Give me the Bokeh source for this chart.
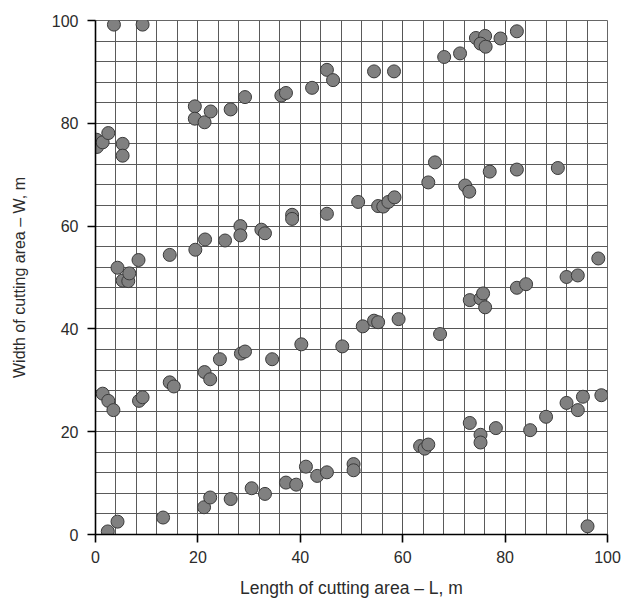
from bokeh.plotting import figure
from bokeh.models import Range1d, SingleIntervalTicker, ColumnDataSource
from bokeh.embed import file_html
from bokeh.resources import INLINE

# Length of cutting area L (m) and width W (m)
length_L = [3.6, 9.2,
            0.2, 0.3, 1.4, 2.5, 5.3, 5.3,
            19.4, 19.4, 21.3, 22.5, 26.4, 29.2, 36.3, 37.2, 42.3, 45.2, 46.4,
            54.4, 58.3, 68.1, 71.2, 74.3, 76.1, 75.2, 76.2, 79.1, 82.3,
            4.3, 5.3, 6.4, 6.6, 8.4, 14.5, 19.5, 21.4, 25.3, 28.3, 28.3, 32.4,
            33.1, 38.4, 38.4, 45.2, 51.3, 55.2, 56.2, 57.2, 58.4, 65.0, 66.3,
            72.2, 73.0, 77.0, 82.3, 90.3,
            98.2, 92.0, 94.2, 82.3, 84.1, 73.1, 75.2, 75.7, 76.1,
            48.2, 52.2, 54.4, 55.2, 59.2, 67.3,
            98.8, 95.2, 92.0, 94.2, 88.0, 84.9, 78.2, 73.1, 75.2, 75.2,
            63.4, 64.3, 65.0, 96.1,
            1.4, 2.5, 3.5, 8.5, 9.2, 14.5, 15.3, 21.3, 22.4, 24.3, 28.4, 29.2,
            34.5, 40.2,
            2.4, 4.3, 13.2, 21.2, 22.4, 26.4, 30.5, 33.1, 37.2, 39.2, 41.1,
            43.3, 45.2, 50.4, 50.4]
width_W = [99.2, 99.2,
           76.8, 75.4, 76.3, 78.1, 76.0, 73.7,
           83.3, 80.9, 80.2, 82.3, 82.7, 85.1, 85.4, 85.9, 86.9, 90.4, 88.4,
           90.1, 90.1, 92.9, 93.6, 96.6, 97.0, 95.5, 94.9, 96.5, 97.9,
           51.9, 49.4, 49.3, 50.8, 53.4, 54.4, 55.4, 57.4, 57.2, 60.0, 58.2, 59.3,
           58.6, 62.2, 61.4, 62.4, 64.7, 63.9, 63.8, 64.7, 65.6, 68.5, 72.4,
           67.9, 66.7, 70.6, 71.0, 71.3,
           53.7, 50.1, 50.4, 48.0, 48.7, 45.6, 45.9, 46.9, 44.2,
           36.6, 40.5, 41.6, 41.3, 41.9, 39.0,
           27.1, 26.8, 25.6, 24.2, 22.9, 20.3, 20.7, 21.7, 19.4, 17.9,
           17.2, 16.7, 17.5, 1.6,
           27.4, 26.0, 24.2, 26.0, 26.7, 29.6, 28.8, 31.6, 30.2, 34.1, 35.2, 35.6,
           34.1, 37.0,
           0.6, 2.5, 3.3, 5.3, 7.2, 6.9, 9.0, 7.9, 10.1, 9.7, 13.2,
           11.4, 12.1, 13.7, 12.5]

x_label = "Length of cutting area – L, m"
y_label = "Width of cutting area – W, m"

FONT = "Liberation Sans"
TEXT_COLOR = "#2b2b2b"

p = figure(width=631, height=602, output_backend="svg", toolbar_location=None,
           x_range=Range1d(0, 100), y_range=Range1d(0, 100),
           min_border_left=95, min_border_right=24, min_border_top=20,
           min_border_bottom=68)

for ax in (p.xaxis[0], p.yaxis[0]):
    ax.ticker = SingleIntervalTicker(interval=20, num_minor_ticks=5)
    ax.axis_line_color = "black"
    ax.axis_line_width = 1.6
    ax.major_tick_line_color = "black"
    ax.major_tick_line_width = 1.6
    ax.major_tick_in = 0
    ax.major_tick_out = 8
    ax.minor_tick_line_color = None
    ax.major_label_text_font = FONT
    ax.major_label_text_font_size = "16px"
    ax.major_label_text_color = TEXT_COLOR
    ax.axis_label_text_font = FONT
    ax.axis_label_text_font_style = "normal"
    ax.axis_label_text_color = TEXT_COLOR

p.xaxis.axis_label = x_label
p.yaxis.axis_label = y_label
p.xaxis.axis_label_text_font_size = "17.5px"
p.yaxis.axis_label_text_font_size = "16px"
p.xaxis.major_label_standoff = 8
p.yaxis.major_label_standoff = 9
p.xaxis.axis_label_standoff = 12
p.yaxis.axis_label_standoff = 21

for g in (p.xgrid[0], p.ygrid[0]):
    g.ticker = SingleIntervalTicker(interval=20, num_minor_ticks=5)
    g.grid_line_color = "#555555"
    g.grid_line_width = 1
    g.minor_grid_line_color = "#5a5a5a"
    g.minor_grid_line_width = 1

p.outline_line_color = "#666666"
p.background_fill_color = "white"
p.border_fill_color = "white"

src = ColumnDataSource(dict(x=length_L, y=width_W))
p.scatter("x", "y", source=src, size=13, fill_color="#808080",
          line_color="#3a3a3a", line_width=1)

open("out.html", "w").write(file_html(p, INLINE))
